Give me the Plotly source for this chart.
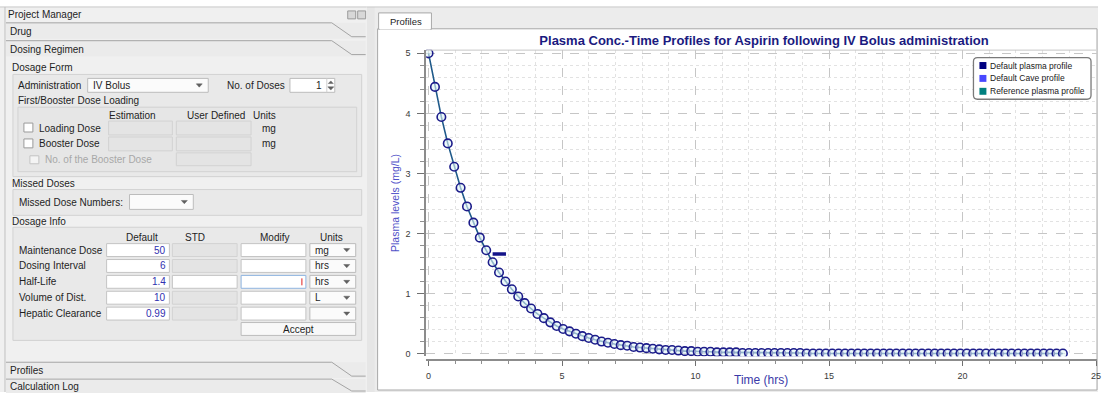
import plotly.graph_objects as go

# ---------------- data ----------------
time_hrs = [
    0, 0.24, 0.48, 0.72, 0.96, 1.2, 1.44, 1.68, 1.92, 2.16,
    2.4, 2.64, 2.88, 3.12, 3.36, 3.6, 3.84, 4.08, 4.32, 4.56,
    4.8, 5.04, 5.28, 5.52, 5.76, 6.0, 6.24, 6.48, 6.72, 6.96,
    7.2, 7.44, 7.68, 7.92, 8.16, 8.4, 8.64, 8.88, 9.12, 9.36,
    9.6, 9.84, 10.08, 10.32, 10.56, 10.8, 11.04, 11.28, 11.52, 11.76,
    12.0, 12.24, 12.48, 12.72, 12.96, 13.2, 13.44, 13.68, 13.92, 14.16,
    14.4, 14.64, 14.88, 15.12, 15.36, 15.6, 15.84, 16.08, 16.32, 16.56,
    16.8, 17.04, 17.28, 17.52, 17.76, 18.0, 18.24, 18.48, 18.72, 18.96,
    19.2, 19.44, 19.68, 19.92, 20.16, 20.4, 20.64, 20.88, 21.12, 21.36,
    21.6, 21.84, 22.08, 22.32, 22.56, 22.8, 23.04, 23.28, 23.52, 23.76,
]
plasma_mg_l = [
    5.00, 4.44, 3.94, 3.50, 3.11, 2.76, 2.45, 2.18, 1.93, 1.72,
    1.52, 1.35, 1.20, 1.07, 0.95, 0.84, 0.75, 0.66, 0.59, 0.52,
    0.46, 0.41, 0.37, 0.33, 0.29, 0.26, 0.23, 0.20, 0.18, 0.16,
    0.14, 0.13, 0.11, 0.10, 0.09, 0.08, 0.07, 0.06, 0.06, 0.05,
    0.04, 0.04, 0.03, 0.03, 0.03, 0.02, 0.02, 0.02, 0.02, 0.01,
    0.01, 0.01, 0.01, 0.01, 0.01, 0.01, 0.01, 0.01, 0.01, 0.00,
    0.00, 0.00, 0.00, 0.00, 0.00, 0.00, 0.00, 0.00, 0.00, 0.00,
    0.00, 0.00, 0.00, 0.00, 0.00, 0.00, 0.00, 0.00, 0.00, 0.00,
    0.00, 0.00, 0.00, 0.00, 0.00, 0.00, 0.00, 0.00, 0.00, 0.00,
    0.00, 0.00, 0.00, 0.00, 0.00, 0.00, 0.00, 0.00, 0.00, 0.00,
]
cave_x = [2.4, 2.9]
cave_y = [1.66, 1.66]

legend_names = ["Default plasma profile", "Default Cave profile", "Reference plasma profile"]
legend_colors = ["#000080", "#4848ff", "#008080"]

chart_title = "Plasma Conc.-Time Profiles for Aspirin following IV Bolus administration"

dose_rows = ["Maintenance Dose", "Dosing Interval", "Half-Life", "Volume of Dist.", "Hepatic Clearance"]
dose_default = ["50", "6", "1.4", "10", "0.99"]
dose_units = ["mg", "hrs", "hrs", "L", ""]

# ---------------- helpers (pixel -> paper) ----------------
W, H = 1102, 394
UI = "Liberation Sans, Arial, sans-serif"


def fx(x):
    return x / W


def fy(y):
    return 1 - y / H


shapes = []
annots = []


def rect(x0, y0, x1, y1, fill=None, line="#b4b4b4", lw=1, layer="below"):
    shapes.append(dict(
        type="rect", xref="paper", yref="paper",
        x0=fx(x0), x1=fx(x1), y0=fy(y1), y1=fy(y0),
        fillcolor=fill if fill else "rgba(0,0,0,0)",
        line=dict(color=line, width=lw) if lw else dict(width=0),
        layer=layer))


def seg(x0, y0, x1, y1, color="#a8a8a8", lw=1, layer="below"):
    shapes.append(dict(type="line", xref="paper", yref="paper",
                       x0=fx(x0), x1=fx(x1), y0=fy(y0), y1=fy(y1),
                       line=dict(color=color, width=lw), layer=layer))


def poly(pts, fill=None, color="#a8a8a8", lw=1, closed=False, layer="below"):
    d = "M " + " L ".join(f"{fx(x):.5f},{fy(y):.5f}" for x, y in pts)
    if closed:
        d += " Z"
    shapes.append(dict(type="path", xref="paper", yref="paper", path=d,
                       fillcolor=fill if fill else "rgba(0,0,0,0)",
                       line=dict(color=color, width=lw), layer=layer))


def text(x, y, s, size=10, color="#1e1e1e", anchor="left", family=UI, angle=0):
    annots.append(dict(x=fx(x), y=fy(y), xref="paper", yref="paper", text=s,
                       showarrow=False, xanchor=anchor, yanchor="middle",
                       textangle=angle, borderpad=0,
                       font=dict(size=size, color=color, family=family)))


def down_arrow(cx, cy, color="#606060"):
    poly([(cx - 3, cy - 1.5), (cx + 3, cy - 1.5), (cx, cy + 1.8)], fill=color, color=color, lw=0.5, closed=True, layer="above")


def up_arrow(cx, cy, color="#606060"):
    poly([(cx - 2.5, cy + 1.2), (cx + 2.5, cy + 1.2), (cx, cy - 1.5)], fill=color, color=color, lw=0.5, closed=True, layer="above")


def field(x0, y0, x1, y1, white=True, border=None):
    rect(x0, y0, x1, y1, fill="#ffffff" if white else "#e4e4e4",
         line=border if border else ("#c4c4c4" if white else "#d2d2d2"), lw=1)


def combo(x0, y0, x1, y1, label=""):
    rect(x0, y0, x1, y1, fill="#fbfbfb", line="#bcbcbc", lw=1)
    if label:
        text(x0 + 4, (y0 + y1) / 2, label, size=10)
    down_arrow(x1 - 9, (y0 + y1) / 2)


# ---------------- left panel (Project Manager) ----------------
rect(0, 6, 368, 394, fill="#f0f0f0", lw=0)
seg(0, 6, 368, 6, "#c8c8c8")
seg(5, 6, 5, 394, "#c0c0c0")
text(7, 14, "Project Manager", size=10)
rect(349, 10, 357, 18, fill="#d8d8d8", line="#9a9a9a", lw=1)
rect(359, 10, 367, 18, fill="#d8d8d8", line="#9a9a9a", lw=1)


def bar(y0, y1, label):
    rect(6, y0, 367, y1, fill="#ebebeb", lw=0)
    poly([(6, y0), (333, y0), (353, y1 - 2), (367, y1 - 2)], color="#a4a4a4", lw=1)
    text(9, (y0 + y1) / 2 + 0.5, label, size=10)


bar(22, 38, "Drug")
bar(40, 56, "Dosing Regimen")
bar(364, 380, "Profiles")
bar(381, 395, "Calculation Log")

# Dosage Form group
text(11, 67, "Dosage Form", size=10)
rect(13, 74, 363, 177, fill="#e9e9e9", line="#d2d2d2")
text(17, 85, "Administration", size=10)
combo(88, 78, 209, 92, "IV Bolus")
text(227, 85, "No. of Doses", size=10)
rect(291, 78, 336, 92, fill="#ffffff", line="#bcbcbc")
text(324, 85, "1", size=10, anchor="right")
seg(328, 78, 328, 92, "#d0d0d0")
up_arrow(332, 82)
down_arrow(332, 88)
text(17, 100, "First/Booster Dose Loading", size=10)
rect(18, 107, 358, 172, fill="#e6e6e6", line="#d2d2d2")
text(133, 115, "Estimation", size=10, anchor="center")
text(217, 115, "User Defined", size=10, anchor="center")
text(265, 115, "Units", size=10, anchor="center")
rect(24, 123, 33, 132, fill="#ffffff", line="#9a9a9a")
text(38, 128, "Loading Dose", size=10)
field(109, 121, 173, 135, white=False)
field(177, 121, 252, 135, white=False)
text(262, 128, "mg", size=10)
rect(24, 139, 33, 148, fill="#ffffff", line="#9a9a9a")
text(38, 144, "Booster Dose", size=10)
field(109, 137, 173, 151, white=False)
field(177, 137, 252, 151, white=False)
text(262, 144, "mg", size=10)
rect(30, 156, 39, 164, fill="#f4f4f4", line="#c4c4c4")
text(44, 160, "No. of the Booster Dose", size=10, color="#a8a8a8")
field(177, 153, 252, 166, white=False)

# Missed doses group
text(11, 184, "Missed Doses", size=10)
rect(13, 190, 363, 216, fill="#e9e9e9", line="#d2d2d2")
text(18, 203, "Missed Dose Numbers:", size=10)
combo(130, 195, 194, 210)

# Dosage info group
text(11, 222, "Dosage Info", size=10)
rect(13, 228, 363, 342, fill="#e9e9e9", line="#d2d2d2")
text(143, 238, "Default", size=10, anchor="center")
text(196, 238, "STD", size=10, anchor="center")
text(275, 238, "Modify", size=10, anchor="center")
text(333, 238, "Units", size=10, anchor="center")
for i, (lab, val, unit) in enumerate(zip(dose_rows, dose_default, dose_units)):
    yc = 251 + 16 * i
    y0, y1 = yc - 6.5, yc + 6.5
    text(18, yc, lab, size=10)
    field(107, y0, 170, y1, white=True)
    text(168, yc, val, size=10, color="#3030b0", anchor="right")
    field(173, y0, 238, y1, white=(lab == "Half-Life"))
    if lab == "Half-Life":
        field(242, y0, 307, y1, white=True, border="#8fb4e0")
        seg(303, y0 + 3, 303, y1 - 3, "#e02020", 1, layer="above")
    else:
        field(242, y0, 307, y1, white=True)
    combo(311, y0, 357, y1, unit)
rect(242, 324, 357, 337, fill="#f8f8f8", line="#bcbcbc")
text(299.5, 331, "Accept", size=10, anchor="center")

# ---------------- right panel (Profiles tab) ----------------
rect(368, 6, 378, 394, fill="#e6e6e6", lw=0)
rect(376, 6, 1102, 394, fill="#ececec", lw=0)
seg(368, 6, 1102, 6, "#c8c8c8")
rect(379, 28, 1101, 392, fill="#ffffff", line="#a8a8a8")
rect(380, 12, 433, 28.5, fill="#ffffff", line="#a8a8a8")
seg(381, 28, 432, 28, "#ffffff", 1.5)
text(407, 21, "Profiles", size=9.5, anchor="center")

# plot outline top
seg(428, 49.5, 1100, 49.5, "#c6c6c6", 1, layer="above")

# axis titles
text(397, 204, "Plasma levels (mg/L)", size=10.5, color="#5050c8", anchor="center", angle=-90)
text(764, 382, "Time (hrs)", size=12, color="#3a3aa8", anchor="center")

# manual legend
lx0, lx1, ly0, ly1, r = 977, 1095, 57, 99, 4
d = (f"M {fx(lx0 + r)},{fy(ly0)} L {fx(lx1 - r)},{fy(ly0)} Q {fx(lx1)},{fy(ly0)} {fx(lx1)},{fy(ly0 + r)} "
     f"L {fx(lx1)},{fy(ly1 - r)} Q {fx(lx1)},{fy(ly1)} {fx(lx1 - r)},{fy(ly1)} "
     f"L {fx(lx0 + r)},{fy(ly1)} Q {fx(lx0)},{fy(ly1)} {fx(lx0)},{fy(ly1 - r)} "
     f"L {fx(lx0)},{fy(ly0 + r)} Q {fx(lx0)},{fy(ly0)} {fx(lx0 + r)},{fy(ly0)} Z")
shapes.append(dict(type="path", xref="paper", yref="paper", path=d, fillcolor="#ffffff",
                   line=dict(color="#7a7a7a", width=1.3), layer="above"))
for i, (nm, col) in enumerate(zip(legend_names, legend_colors)):
    yc = 65 + 13 * i
    rect(983, yc - 3.5, 990, yc + 3.5, fill=col, lw=0, layer="above")
    text(993, yc, nm, size=8.5, color="#202020")

# ---------------- chart ----------------
fig = go.Figure()
fig.add_trace(go.Scatter(
    x=time_hrs, y=plasma_mg_l, mode="lines+markers", name=legend_names[0],
    line=dict(color="#1f5a8a", width=1.6),
    marker=dict(symbol="circle", size=8.5, color="rgba(225,245,247,0.6)",
                line=dict(color="#1c1c8a", width=1.6)),
    showlegend=False, xaxis="x", yaxis="y"))
fig.add_trace(go.Scatter(
    x=cave_x, y=cave_y, mode="lines", name=legend_names[1],
    line=dict(color="#14148a", width=3.5), showlegend=False, xaxis="x2", yaxis="y"))

x_range = [-0.086, 25.03]
tickfont = dict(size=9, color="#3a3a3a", family="Liberation Sans, Arial, sans-serif")

fig.update_layout(
    width=W, height=H,
    margin=dict(l=0, r=0, t=0, b=0),
    paper_bgcolor="#ffffff",
    plot_bgcolor="rgba(0,0,0,0)",
    showlegend=False,
    title=dict(text=f"<b>{chart_title}</b>", x=fx(764), y=fy(40), xanchor="center", yanchor="middle",
               font=dict(size=13, color="#1a1a80", family="Liberation Sans, Arial, sans-serif")),
    xaxis=dict(domain=[fx(427.8), fx(1100.8)], range=x_range, anchor="y",
               showgrid=True, gridcolor="#c6c6c6", griddash="dash", gridwidth=1,
               tick0=0, dtick=5, showticklabels=False, ticks="", zeroline=False, showline=False,
               minor=dict(dtick=1, showgrid=True, gridcolor="#e2e2e2", griddash="dot", gridwidth=1)),
    xaxis2=dict(overlaying="x", matches="x", range=x_range, anchor="free", position=fy(362),
                showgrid=False, zeroline=False, showline=True, linecolor="#8c8c8c", linewidth=2,
                tick0=0, dtick=5, ticks="outside", ticklen=5, tickcolor="#707070", tickwidth=1,
                tickfont=tickfont, ticklabelstandoff=2, ticklabeloverflow="allow",
                minor=dict(dtick=1, ticks="outside", ticklen=3, tickcolor="#909090", showgrid=False)),
    yaxis=dict(domain=[fy(358), fy(49)], range=[-0.045, 5.061], anchor="x",
               showgrid=True, gridcolor="#c6c6c6", griddash="dash", gridwidth=1,
               tick0=0, dtick=1, ticks="outside", ticklen=7, tickcolor="#707070",
               tickfont=tickfont, ticklabelstandoff=5,
               zeroline=False, showline=True, linecolor="#8c8c8c", linewidth=2,
               minor=dict(dtick=0.2, showgrid=True, gridcolor="#e2e2e2", griddash="dot",
                          ticks="outside", ticklen=4, tickcolor="#909090")),
    shapes=shapes,
    annotations=annots,
)

fig.write_html("out.html", config={"displayModeBar": False},
               post_script="document.body.style.margin='0';document.body.style.overflow='hidden';")
